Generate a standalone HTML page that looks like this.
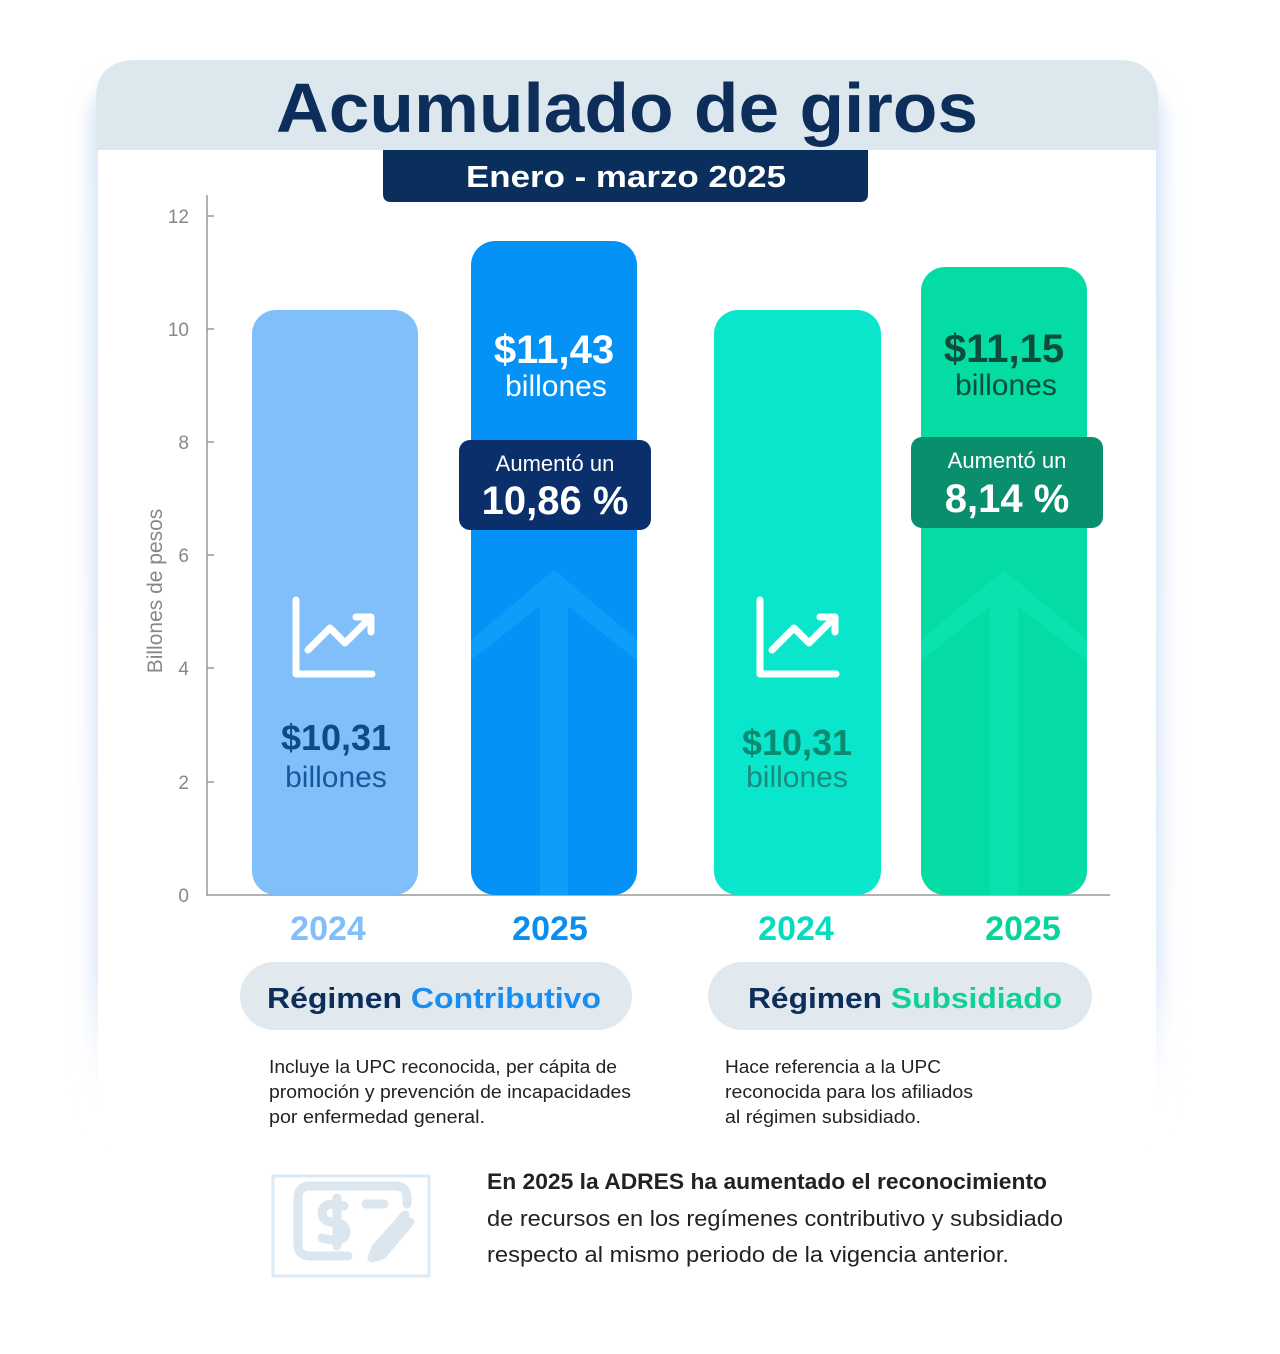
<!DOCTYPE html>
<html><head><meta charset="utf-8"><style>
html,body{margin:0;padding:0;background:#fff;}
svg{display:block;font-family:"Liberation Sans",sans-serif;}
</style></head><body>
<svg width="1280" height="1354" viewBox="0 0 1280 1354" xmlns="http://www.w3.org/2000/svg">
<defs>
<filter id="sh" x="-10%" y="-10%" width="120%" height="120%"><feGaussianBlur stdDeviation="10"/></filter>
<linearGradient id="fade" x1="0" y1="0" x2="0" y2="1"><stop offset="0" stop-color="#cfe0f7"/><stop offset="0.85" stop-color="#dbe8fa"/><stop offset="1" stop-color="#fff" stop-opacity="0"/></linearGradient>
<clipPath id="c2"><rect x="471" y="241" width="166" height="654" rx="24"/></clipPath>
<clipPath id="c4"><rect x="921" y="267" width="166" height="628" rx="24"/></clipPath>
</defs>
<rect width="1280" height="1354" fill="#fff"/>
<rect x="92" y="80" width="1070" height="1060" rx="40" fill="url(#fade)" filter="url(#sh)"/>
<rect x="98" y="60" width="1058" height="1100" rx="40" fill="#fff"/>
<path d="M96 150 V100 Q96 60 136 60 H1118 Q1158 60 1158 100 V150 Z" fill="#dde8ee"/>
<text x="627" y="132" text-anchor="middle" font-size="70" font-weight="bold" fill="#0d2d5a" textLength="702" lengthAdjust="spacingAndGlyphs">Acumulado de giros</text>
<path d="M383 150 H868 V194 Q868 202 860 202 H391 Q383 202 383 194 Z" fill="#0b2f5c"/>
<text x="626" y="187" text-anchor="middle" font-size="31" font-weight="bold" fill="#fff" textLength="320" lengthAdjust="spacingAndGlyphs">Enero - marzo 2025</text>
<g stroke="#999" stroke-width="1.5">
<line x1="207" y1="195" x2="207" y2="896"/>
<line x1="207" y1="895" x2="1110" y2="895"/>
<line x1="207" y1="216" x2="214" y2="216"/><line x1="207" y1="329" x2="214" y2="329"/><line x1="207" y1="442" x2="214" y2="442"/><line x1="207" y1="555" x2="214" y2="555"/><line x1="207" y1="668" x2="214" y2="668"/><line x1="207" y1="782" x2="214" y2="782"/>
</g>
<g font-size="19" fill="#888" text-anchor="end">
<text x="189" y="223">12</text><text x="189" y="336">10</text><text x="189" y="449">8</text><text x="189" y="562">6</text><text x="189" y="675">4</text><text x="189" y="789">2</text><text x="189" y="902">0</text>
</g>
<text transform="translate(162,591) rotate(-90)" text-anchor="middle" font-size="21" fill="#888">Billones de pesos</text>
<rect x="252" y="310" width="166" height="585" rx="24" fill="#80bffa"/>
<rect x="471" y="241" width="166" height="654" rx="24" fill="#0592f7"/>
<rect x="714" y="310" width="167" height="585" rx="24" fill="#0ae6cb"/>
<rect x="921" y="267" width="166" height="628" rx="24" fill="#04dca4"/>
<g opacity="0.35">
<g clip-path="url(#c2)">
<path d="M471 640 L554 570 L637 640 V660 L554 595 L471 660 Z" fill="#22b6ff"/>
<rect x="540" y="590" width="28" height="305" fill="#22b6ff"/>
</g>
<g clip-path="url(#c4)">
<path d="M921 640 L1004 570 L1087 640 V660 L1004 595 L921 660 Z" fill="#1af0c4"/>
<rect x="990" y="590" width="28" height="305" fill="#1af0c4"/>
</g>
</g>
<g fill="none" stroke="#fff" stroke-width="7" stroke-linecap="round" stroke-linejoin="round">
<path d="M296 600 V674 H372"/><path d="M308 650 L330 628 L345 643 L370 618"/><path d="M356 617 H371 V632"/>
<path d="M760 600 V674 H836"/><path d="M772 650 L794 628 L809 643 L834 618"/><path d="M820 617 H835 V632"/>
</g>
<text x="336" y="750" text-anchor="middle" font-size="36" font-weight="bold" fill="#0c4a8a">$10,31</text>
<text x="336" y="787" text-anchor="middle" font-size="30" fill="#15589c">billones</text>
<text x="797" y="755" text-anchor="middle" font-size="36" font-weight="bold" fill="#0b8a72">$10,31</text>
<text x="797" y="787" text-anchor="middle" font-size="30" fill="#1c8a7c">billones</text>
<text x="554" y="363" text-anchor="middle" font-size="40" font-weight="bold" fill="#fff">$11,43</text>
<text x="556" y="396" text-anchor="middle" font-size="30" fill="#fff">billones</text>
<text x="1004" y="362" text-anchor="middle" font-size="40" font-weight="bold" fill="#0b4d3a">$11,15</text>
<text x="1006" y="395" text-anchor="middle" font-size="30" fill="#0b4d3a">billones</text>
<rect x="459" y="440" width="192" height="90" rx="11" fill="#0b2f6b"/>
<text x="555" y="471" text-anchor="middle" font-size="22" fill="#fff">Aumentó un</text>
<text x="555" y="514" text-anchor="middle" font-size="40" font-weight="bold" fill="#fff">10,86 %</text>
<rect x="911" y="437" width="192" height="91" rx="11" fill="#0a8f6e"/>
<text x="1007" y="468" text-anchor="middle" font-size="22" fill="#fff">Aumentó un</text>
<text x="1007" y="512" text-anchor="middle" font-size="40" font-weight="bold" fill="#fff">8,14 %</text>
<g font-size="34" font-weight="bold" text-anchor="middle">
<text x="328" y="940" fill="#80bffa">2024</text>
<text x="550" y="940" fill="#0a8ef0">2025</text>
<text x="796" y="940" fill="#06dcc0">2024</text>
<text x="1023" y="940" fill="#05d49c">2025</text>
</g>
<rect x="240" y="962" width="392" height="68" rx="34" fill="#e1e9ef"/>
<text x="434" y="1008" text-anchor="middle" font-size="29" font-weight="bold" fill="#0d2d5a" textLength="334" lengthAdjust="spacingAndGlyphs">Régimen <tspan fill="#1a8ef0">Contributivo</tspan></text>
<rect x="708" y="962" width="384" height="68" rx="34" fill="#e1e9ef"/>
<text x="905" y="1008" text-anchor="middle" font-size="29" font-weight="bold" fill="#0d2d5a" textLength="314" lengthAdjust="spacingAndGlyphs">Régimen <tspan fill="#10d09a">Subsidiado</tspan></text>
<g font-size="18" fill="#222">
<text x="269" y="1073" textLength="348" lengthAdjust="spacingAndGlyphs">Incluye la UPC reconocida, per cápita de</text>
<text x="269" y="1098" textLength="362" lengthAdjust="spacingAndGlyphs">promoción y prevención de incapacidades</text>
<text x="269" y="1123" textLength="216" lengthAdjust="spacingAndGlyphs">por enfermedad general.</text>
<text x="725" y="1073" textLength="216" lengthAdjust="spacingAndGlyphs">Hace referencia a la UPC</text>
<text x="725" y="1098" textLength="248" lengthAdjust="spacingAndGlyphs">reconocida para los afiliados</text>
<text x="725" y="1123" textLength="196" lengthAdjust="spacingAndGlyphs">al régimen subsidiado.</text>
</g>
<rect x="273" y="1176" width="156" height="100" fill="#fff" stroke="#dce9f7" stroke-width="3"/>
<g fill="none" stroke="#dbe6ee" stroke-width="9" stroke-linecap="round" stroke-linejoin="round">
<path d="M348 1256 H310 Q298 1256 298 1244 V1198 Q298 1186 310 1186 H395 Q407 1186 407 1198 V1204"/>
<path d="M337 1198 V1246 M344 1206 Q325 1200 322 1212 Q322 1222 333 1222 Q346 1222 346 1233 Q344 1244 322 1238"/>
<path d="M366 1204 H384"/><path d="M405 1215 L376 1248 L372 1258 L382 1255 L410 1222"/>
</g>
<g font-size="22" fill="#222">
<text x="487" y="1189" font-weight="bold" textLength="560" lengthAdjust="spacingAndGlyphs">En 2025 la ADRES ha aumentado el reconocimiento</text>
<text x="487" y="1226" textLength="576" lengthAdjust="spacingAndGlyphs">de recursos en los regímenes contributivo y subsidiado</text>
<text x="487" y="1262" textLength="522" lengthAdjust="spacingAndGlyphs">respecto al mismo periodo de la vigencia anterior.</text>
</g>
</svg>
</body></html>
